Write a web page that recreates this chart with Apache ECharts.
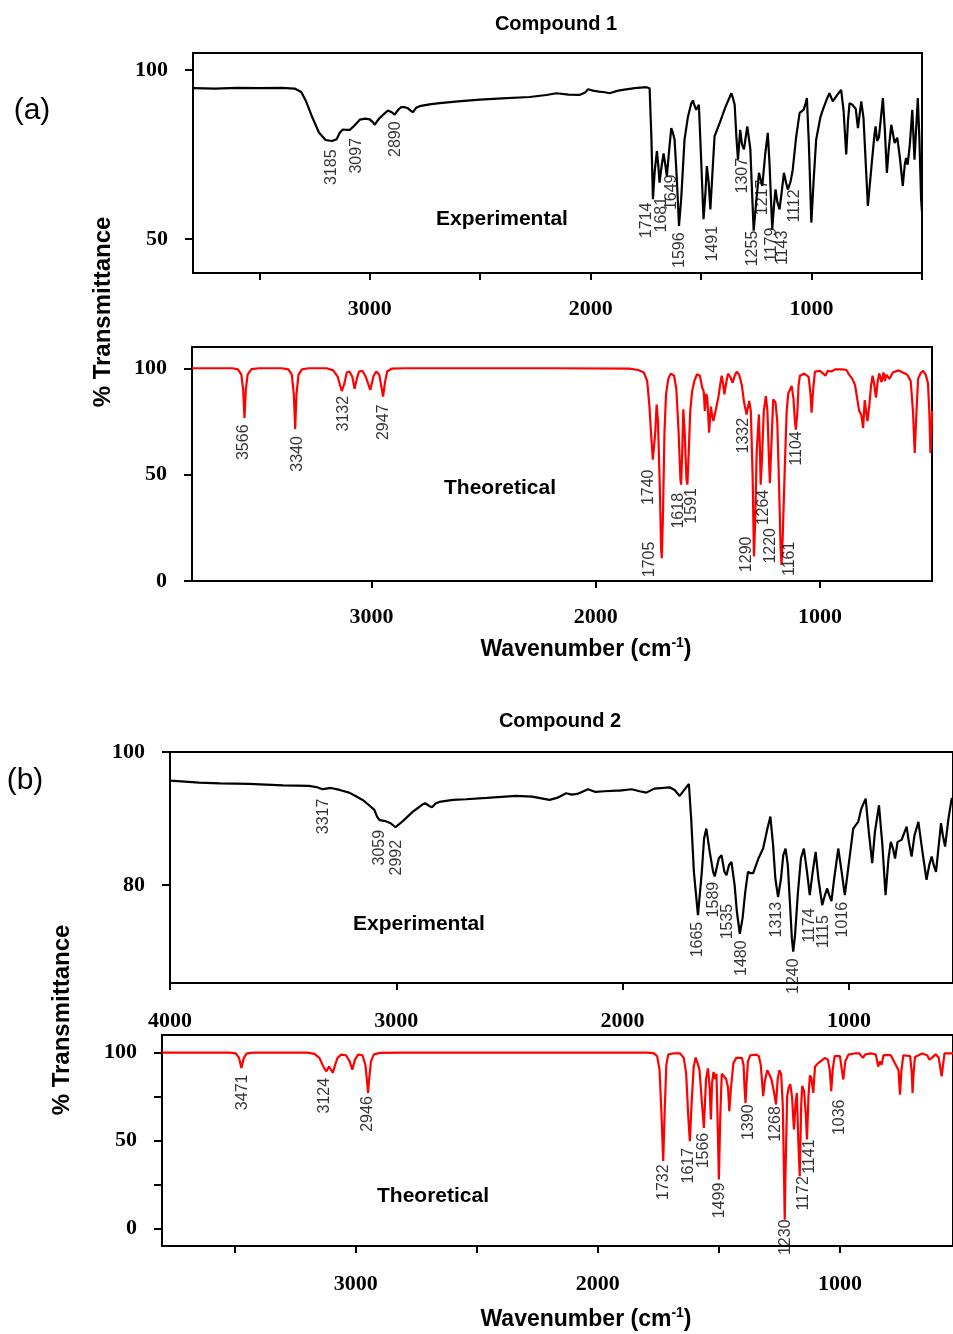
<!DOCTYPE html>
<html>
  <head>
    <title></title>
    <meta charset="UTF-8" />
    <script src="https://cdn.jsdelivr.net/npm/echarts@6.0.0/dist/echarts.min.js"></script>
    <style>
      body { margin: 0; background: #fff; }
    </style>
  </head>
  <body>
    <div id="main"></div>
    <script>
      const width = 953;
      const height = 1334;
      const main = document.getElementById('main');
      main.style.width = `${width}px`;
      main.style.height = `${height}px`;

      // [wavenumber, % transmittance]
      const exp1 = [
        [3800, 94.6], [3700, 94.5], [3600, 94.7], [3500, 94.6], [3400, 94.7], [3340, 94.5], [3310, 93.5],
        [3290, 91], [3260, 86], [3230, 81.5], [3200, 79.3], [3170, 79], [3150, 79.5], [3135, 81.5],
        [3122, 82.4], [3105, 82.3], [3090, 82.3], [3070, 83.5], [3045, 85.3], [3020, 85.6], [3000, 85.4],
        [2985, 84.5], [2977, 83.8], [2965, 85], [2955, 85.8], [2935, 87], [2918, 88], [2900, 87.5],
        [2887, 86.8], [2870, 88.3], [2857, 89], [2840, 89], [2828, 88.7], [2815, 88], [2805, 87.5],
        [2790, 88.8], [2774, 89.3], [2730, 89.8], [2683, 90.2], [2600, 90.7], [2502, 91.2], [2400, 91.6],
        [2276, 92], [2200, 92.6], [2155, 93.1], [2100, 92.7], [2050, 92.6], [2025, 93.3], [2012, 94.3],
        [1990, 93.9], [1962, 93.6], [1935, 93.4], [1914, 93.1], [1880, 93.8], [1855, 94.1], [1800, 94.6],
        [1748, 94.9], [1733, 94.6], [1725, 80], [1718, 61.8], [1710, 70], [1700, 76], [1694, 72],
        [1688, 66.7], [1680, 71], [1670, 75.3], [1662, 72], [1655, 68.6], [1645, 76], [1635, 82.8],
        [1628, 81.5], [1620, 79.4], [1610, 68], [1600, 53.9], [1590, 62], [1575, 79.4], [1560, 86],
        [1545, 90], [1537, 91], [1530, 89.5], [1522, 88.2], [1510, 89.7], [1500, 74], [1489, 55.9],
        [1480, 64], [1474, 71.6], [1466, 67], [1458, 58.8], [1450, 68], [1439, 80.4], [1416, 84.3],
        [1390, 89], [1363, 93.1], [1355, 91.5], [1348, 89.7], [1340, 80], [1333, 73.5], [1323, 82.3],
        [1315, 78], [1306, 76.5], [1291, 83.3], [1284, 80], [1277, 76.5], [1270, 65], [1262, 52.5],
        [1252, 60], [1238, 69.6], [1230, 67.5], [1223, 65.7], [1210, 75], [1198, 81.4], [1190, 72],
        [1178, 52.9], [1170, 60], [1163, 64.7], [1155, 61], [1145, 58.8], [1135, 64], [1125, 69.6],
        [1115, 66.5], [1107, 64.7], [1095, 67], [1085, 70.6], [1070, 80], [1054, 87.3], [1036, 88.2],
        [1025, 90.5], [1021, 91.7], [1012, 78], [1001, 54.9], [990, 68], [979, 79.4], [960, 86],
        [949, 88.2], [930, 91.5], [919, 93.1], [904, 90.7], [885, 92.5], [866, 94.1], [855, 88],
        [843, 75], [835, 85], [828, 90.2], [815, 89.7], [800, 88.5], [790, 82.8], [775, 90.7],
        [765, 86], [745, 59.8], [728, 72], [715, 81], [710, 83.3], [703, 79], [695, 80], [677, 91.7],
        [668, 82], [659, 69.6], [650, 77], [639, 83.8], [624, 78.4], [612, 80], [600, 74], [587, 65.7],
        [578, 72], [572, 74], [565, 72], [555, 78], [544, 88.2], [534, 73.5], [519, 91.7], [512, 80],
        [504, 61.8], [500, 58]
      ];

      const theo1 = [
        [3800, 100], [3620, 100], [3595, 99.5], [3580, 97], [3572, 90], [3566, 76.7], [3560, 90],
        [3552, 97], [3535, 99.6], [3500, 100], [3400, 100], [3370, 99.5], [3355, 97], [3346, 88],
        [3340, 71.5], [3334, 88], [3325, 97], [3310, 99.5], [3280, 100], [3200, 100], [3170, 99],
        [3150, 96], [3140, 92], [3132, 89.3], [3120, 93], [3110, 98], [3098, 98.5], [3085, 96],
        [3075, 90.4], [3065, 95], [3055, 98.5], [3040, 98.8], [3025, 96], [3005, 89.8], [2990, 96.5],
        [2978, 98.5], [2965, 97], [2955, 91], [2948, 86.7], [2940, 93], [2930, 98.5], [2910, 99.8],
        [2850, 100], [2200, 100], [1850, 99.8], [1810, 99.2], [1785, 98], [1770, 94], [1760, 82],
        [1752, 68], [1745, 57], [1740, 56.3], [1734, 70], [1728, 83], [1722, 75], [1714, 45],
        [1708, 15], [1705, 10.7], [1700, 30], [1693, 70], [1686, 88], [1676, 95], [1665, 97.5],
        [1650, 96.5], [1640, 90], [1630, 70], [1622, 48], [1619, 45.3], [1614, 60], [1609, 80.7],
        [1603, 70], [1595, 48], [1591, 45.3], [1585, 60], [1578, 80], [1570, 89], [1560, 94],
        [1548, 97.2], [1535, 96.5], [1525, 91], [1518, 89], [1513, 80], [1507, 88], [1502, 86],
        [1494, 69.7], [1486, 82], [1482, 79], [1475, 75.2], [1465, 80], [1453, 86.2], [1445, 92],
        [1438, 96.5], [1432, 93], [1426, 87.7], [1418, 93], [1410, 97.5], [1400, 96], [1389, 93.2],
        [1380, 96.5], [1371, 98.4], [1360, 97], [1348, 92], [1338, 84], [1327, 78.3], [1320, 82],
        [1315, 84.6], [1308, 80], [1300, 50], [1294, 11.5], [1288, 30], [1282, 60], [1272, 78.3],
        [1268, 65], [1264, 45.3], [1258, 58], [1250, 80], [1241, 86.9], [1234, 80], [1228, 60],
        [1223, 46], [1217, 62], [1208, 85.4], [1198, 84], [1190, 75], [1182, 45], [1175, 15],
        [1171, 7.5], [1166, 20], [1156, 55], [1148, 80], [1141, 88.2], [1126, 91.7], [1118, 86],
        [1112, 76], [1107, 71.2], [1100, 80], [1095, 92], [1089, 96.5], [1070, 97.5], [1050, 96],
        [1042, 88], [1037, 79.1], [1030, 90], [1022, 98.4], [1000, 98.8], [985, 97.5], [975, 96.5],
        [965, 98.8], [950, 98.5], [930, 99.5], [900, 99.5], [881, 99.2], [870, 97], [855, 95],
        [843, 92], [837, 91.7], [825, 80], [815, 78], [807, 72], [800, 85], [794, 80], [788, 75.2],
        [780, 82], [772, 91.7], [765, 96.5], [757, 92], [750, 86.2], [742, 94], [735, 97.5],
        [725, 93.5], [716, 98], [710, 94], [704, 97], [690, 95], [675, 98], [650, 99], [630, 98],
        [610, 97], [595, 94], [585, 80], [577, 60.2], [570, 78], [562, 95], [552, 97.5], [540, 98.8],
        [528, 97], [518, 93], [512, 80], [507, 60.2], [501, 75], [500, 80]
      ];

      const exp2 = [
        [4000, 95.7], [3950, 95.6], [3872, 95.4], [3780, 95.3], [3650, 95.2], [3500, 95], [3385, 94.9],
        [3350, 94.7], [3326, 94.4], [3310, 94.5], [3289, 94.6], [3250, 94.3], [3208, 93.9], [3180, 93.4],
        [3149, 92.8], [3120, 92], [3097, 91.3], [3085, 90.3], [3075, 89.8], [3060, 89.7], [3046, 89.6],
        [3025, 89.3], [3004, 88.7], [2990, 89.1], [2972, 89.6], [2950, 90.3], [2928, 91], [2900, 91.7],
        [2885, 92.1], [2872, 92.3], [2855, 91.9], [2842, 91.7], [2825, 92.3], [2810, 92.5], [2750, 92.8],
        [2692, 92.9], [2600, 93.1], [2470, 93.4], [2400, 93.3], [2323, 92.8], [2290, 93.1], [2249, 93.8],
        [2225, 93.6], [2200, 93.7], [2153, 94.4], [2120, 94], [2080, 94.1], [2028, 94.2], [2013, 94.2],
        [1960, 94.4], [1925, 94.1], [1895, 93.9], [1860, 94.5], [1820, 94.6], [1792, 94.7], [1770, 94.3],
        [1748, 93.4], [1730, 94.2], [1707, 95.2], [1697, 90], [1685, 82], [1667, 75.5], [1650, 82],
        [1640, 87], [1630, 88.5], [1615, 85], [1600, 82], [1593, 81.3], [1575, 84], [1563, 84.5],
        [1550, 82], [1541, 81.5], [1530, 83], [1519, 83.5], [1505, 80], [1495, 76], [1482, 72.7],
        [1470, 75], [1458, 79], [1446, 82], [1435, 81.8], [1423, 81.8], [1400, 84], [1379, 85.5],
        [1360, 88.5], [1347, 90.3], [1335, 86], [1325, 81], [1313, 78.2], [1300, 81], [1290, 84.5],
        [1280, 85.5], [1270, 83], [1260, 77], [1252, 72], [1246, 70], [1238, 72.5], [1225, 79],
        [1212, 84], [1199, 85.5], [1185, 82], [1173, 78.5], [1160, 82], [1147, 85], [1135, 81],
        [1118, 77], [1106, 78.5], [1096, 79.5], [1087, 78.5], [1077, 77.6], [1065, 81], [1047, 85.5],
        [1032, 82], [1018, 78.5], [1005, 82], [990, 86], [981, 88.5], [959, 89.5], [945, 91.5],
        [926, 93], [912, 88], [897, 83.3], [885, 88], [867, 92], [852, 86], [838, 78.5], [825, 84],
        [815, 86.5], [805, 85.5], [796, 84], [785, 86.5], [767, 86.8], [745, 88.8], [735, 86.5],
        [723, 84.3], [710, 87.5], [693, 89.5], [675, 85], [657, 80.8], [645, 83], [634, 84.3],
        [625, 83], [615, 82], [603, 86], [593, 89.3], [585, 87.5], [575, 85.8], [560, 90], [546, 93],
        [540, 93]
      ];

      const theo2 = [
        [3800, 100], [3520, 100], [3495, 99.5], [3482, 97], [3472, 91.3], [3462, 97], [3450, 99.5],
        [3420, 100], [3200, 100], [3170, 99.3], [3150, 97], [3130, 91], [3121, 89.4], [3110, 92],
        [3104, 91], [3094, 88.5], [3085, 93], [3075, 97], [3060, 98.8], [3040, 98.5], [3025, 95],
        [3014, 90.3], [3003, 96], [2990, 98.8], [2972, 98.5], [2960, 93], [2952, 82], [2949, 77.1],
        [2945, 84], [2937, 95], [2925, 99], [2900, 99.8], [2800, 100], [1800, 100], [1770, 99.7],
        [1755, 98], [1745, 90], [1737, 65], [1730, 38.3], [1723, 70], [1717, 93], [1709, 99],
        [1690, 99.5], [1660, 99.5], [1645, 97], [1635, 88], [1627, 65], [1620, 49.6], [1613, 70],
        [1604, 92], [1596, 97.2], [1588, 94], [1580, 90], [1572, 75], [1562, 57.2], [1553, 85],
        [1545, 91], [1538, 80], [1533, 62], [1528, 83], [1522, 89], [1516, 85], [1510, 88], [1505, 60],
        [1500, 27.8], [1494, 65], [1488, 88], [1480, 87], [1470, 85], [1462, 80], [1457, 66.7],
        [1450, 80], [1440, 94], [1428, 97], [1405, 97], [1398, 93], [1394, 80], [1390, 71.4],
        [1386, 82], [1380, 95], [1370, 98.5], [1345, 98.8], [1335, 98], [1327, 93], [1317, 75.2],
        [1310, 84], [1300, 90], [1292, 91], [1283, 85], [1273, 78], [1264, 70.5], [1257, 85],
        [1250, 90], [1243, 88], [1236, 70], [1231, 30], [1228, 5], [1225, 30], [1218, 75], [1212, 80],
        [1205, 82], [1198, 75], [1190, 56.3], [1183, 72], [1178, 77], [1172, 50], [1166, 29.7],
        [1160, 70], [1156, 81], [1148, 78], [1141, 65], [1136, 50.6], [1130, 75], [1124, 87],
        [1118, 85.5], [1110, 77.1], [1103, 92], [1090, 94], [1075, 95.5], [1062, 97], [1050, 96],
        [1042, 90], [1036, 78], [1030, 90], [1022, 98], [1000, 98], [992, 90], [986, 84.7], [978, 95],
        [965, 98.8], [940, 99.5], [920, 99.5], [905, 97], [895, 99], [870, 99.5], [852, 99], [842, 92],
        [835, 95], [828, 93], [820, 98.5], [790, 98.5], [758, 90], [752, 76.1], [746, 90], [738, 98.5],
        [710, 98], [703, 88], [700, 77.1], [696, 88], [690, 97.5], [660, 99.5], [640, 98.5], [630, 96],
        [620, 97], [605, 99], [592, 97], [584, 90], [580, 86.5], [575, 92], [568, 99.5], [533, 99.5]
      ];

      // peak labels: [wavenumber, transmittance at top of the label, text]
      const peaksExp1 = [
        [3173, 76.5, '3185'], [3060, 79.9, '3097'], [2882, 84.8, '2890'], [1748, 60.8, '1714'],
        [1680, 62.5, '1681'], [1635, 69.1, '1649'], [1597, 52, '1596'], [1447, 53.9, '1491'],
        [1311, 74, '1307'], [1268, 52.5, '1255'], [1220, 67.6, '1217'], [1182, 53.4, '1179'],
        [1130, 52.5, '1143'], [1077, 64.7, '1112']
      ];
      const peaksTheo1 = [
        [3569, 73.6, '3566'], [3328, 68.1, '3340'], [3126, 87, '3132'], [2945, 83, '2947'],
        [1765, 52.4, '1740'], [1760, 18.5, '1705'], [1631, 41.4, '1618'], [1572, 43.7, '1591'],
        [1339, 76.7, '1332'], [1327, 20.9, '1290'], [1253, 42.9, '1264'], [1220, 24.9, '1220'],
        [1137, 18.5, '1161'], [1104, 70.4, '1104']
      ];
      const peaksExp2 = [
        [3323, 93, '3317'], [3075, 88.3, '3059'], [2999, 86.8, '2992'], [1667, 74.5, '1665'],
        [1597, 80.5, '1589'], [1534, 77.2, '1535'], [1475, 71.7, '1480'], [1320, 77.5, '1313'],
        [1243, 69, '1240'], [1173, 76.5, '1174'], [1114, 75.5, '1115'], [1028, 77.5, '1016']
      ];
      const peaksTheo2 = [
        [3468, 87.5, '3471'], [3128, 85.6, '3124'], [2949, 75.2, '2946'], [1727, 36.4, '1732'],
        [1623, 45.8, '1617'], [1562, 54.4, '1566'], [1496, 26, '1499'], [1376, 70.5, '1390'],
        [1264, 69.5, '1268'], [1224, 5.1, '1230'], [1149, 29.7, '1172'], [1124, 50.6, '1141'],
        [1003, 73.3, '1036']
      ];

      // tick / label positions
      const xTicks1 = [500, 1000, 1500, 2000, 2500, 3000, 3500];
      const xTicks2 = [1000, 2000, 3000];
      const xTicks3 = [1000, 2000, 3000, 4000];
      const xTicks4 = [1000, 1500, 2000, 2500, 3000, 3500];
      const xLabels = [1000, 2000, 3000];
      const xLabels3 = [1000, 2000, 3000, 4000];
      const yTicks1 = [50, 100];
      const yTicks2 = [0, 50, 100];
      const yTicks3 = [80, 100];
      const yTicks4 = [0, 25, 50, 75, 100];
      const yLabels4 = [0, 50, 100];

      const serif = 'Liberation Serif';
      const sans = 'Liberation Sans';

      function xAx(i, min, max, ticks, labels, margin) {
        return {
          type: 'value', gridIndex: i, inverse: true, min: min, max: max,
          axisLine: { show: true, onZero: false, lineStyle: { color: '#000', width: 2 } },
          axisTick: { show: true, length: 7, customValues: ticks, lineStyle: { color: '#000', width: 2 } },
          axisLabel: {
            customValues: labels, margin: margin, color: '#000',
            formatter: (v) => String(v),
            fontFamily: serif, fontWeight: 'bold', fontSize: 22
          },
          splitLine: { show: false }
        };
      }
      function yAx(i, min, max, ticks, labels) {
        return {
          type: 'value', gridIndex: i, min: min, max: max,
          axisLine: { show: true, onZero: false, lineStyle: { color: '#000', width: 2 } },
          axisTick: { show: true, length: 8, customValues: ticks, lineStyle: { color: '#000', width: 2 } },
          axisLabel: {
            customValues: labels, margin: 25, color: '#000',
            formatter: (v) => String(v),
            fontFamily: serif, fontWeight: 'bold', fontSize: 22
          },
          splitLine: { show: false }
        };
      }
      function spectrum(i, data, color) {
        return {
          type: 'line', xAxisIndex: i, yAxisIndex: i, data: data,
          symbol: 'none', smooth: false, silent: true, z: 3,
          lineStyle: { color: color, width: 2.2 }
        };
      }
      function peakLabels(i, data) {
        return {
          type: 'scatter', xAxisIndex: i, yAxisIndex: i, data: data,
          symbolSize: 1, silent: true, z: 4,
          itemStyle: { color: 'rgba(0,0,0,0)' },
          label: {
            show: true, position: 'inside', rotate: 90, align: 'right', verticalAlign: 'middle',
            formatter: (p) => p.data[2], color: '#000', fontFamily: sans, fontSize: 16
          }
        };
      }
      function txt(x, y, s, size, weight, rot) {
        return {
          type: 'text', x: x, y: y, rotation: rot || 0, z: 10,
          style: {
            text: s, fill: '#000', font: `${weight} ${size}px "${sans}"`,
            textAlign: 'center', textVerticalAlign: 'middle'
          }
        };
      }
      function wavenumberTitle(x, y) {
        return {
          type: 'text', x: x, y: y, z: 10,
          style: {
            text: '{a|Wavenumber (cm}{b|-1}{a|)}', textAlign: 'center', textVerticalAlign: 'middle',
            rich: {
              a: { fontFamily: sans, fontWeight: 'bold', fontSize: 23, fill: '#000', lineHeight: 28 },
              b: { fontFamily: sans, fontWeight: 'bold', fontSize: 14, fill: '#000', verticalAlign: 'top', lineHeight: 28 }
            }
          }
        };
      }

      const myChart = echarts.init(main);
      const option = {
        animation: false,
        backgroundColor: '#fff',
        grid: [
          { left: 193, top: 53, width: 729, height: 220 },
          { left: 192, top: 347, width: 740, height: 234 },
          { left: 170, top: 752, width: 783, height: 231 },
          { left: 162, top: 1035, width: 791, height: 211 }
        ].map((g) => Object.assign(g, { show: true, borderColor: '#000', borderWidth: 2, containLabel: false })),
        xAxis: [
          xAx(0, 500, 3800, xTicks1, xLabels, 25),
          xAx(1, 500, 3800, xTicks2, xLabels, 25),
          xAx(2, 540, 4000, xTicks3, xLabels3, 27),
          xAx(3, 533, 3800, xTicks4, xLabels, 27)
        ],
        yAxis: [
          yAx(0, 40, 105, yTicks1, yTicks1),
          yAx(1, 0, 110, yTicks2, yTicks2),
          yAx(2, 65.3, 100, yTicks3, yTicks3),
          yAx(3, -10, 110, yTicks4, yLabels4)
        ],
        series: [
          spectrum(0, exp1, '#000'),
          spectrum(1, theo1, '#ff0000'),
          spectrum(2, exp2, '#000'),
          spectrum(3, theo2, '#ff0000'),
          peakLabels(0, peaksExp1),
          peakLabels(1, peaksTheo1),
          peakLabels(2, peaksExp2),
          peakLabels(3, peaksTheo2)
        ],
        graphic: [
          txt(556, 24, 'Compound 1', 20, 'bold'),
          txt(560, 721, 'Compound 2', 20, 'bold'),
          txt(32, 111, '(a)', 30, 'normal'),
          txt(25, 781, '(b)', 30, 'normal'),
          txt(103, 312, '% Transmittance', 24, 'bold', Math.PI / 2),
          txt(62, 1020, '% Transmittance', 24, 'bold', Math.PI / 2),
          txt(502, 219, 'Experimental', 21, 'bold'),
          txt(500, 488, 'Theoretical', 21, 'bold'),
          txt(419, 924, 'Experimental', 21, 'bold'),
          txt(433, 1196, 'Theoretical', 21, 'bold'),
          wavenumberTitle(586, 650),
          wavenumberTitle(586, 1320)
        ]
      };
      myChart.setOption(option);
    </script>
  </body>
</html>
